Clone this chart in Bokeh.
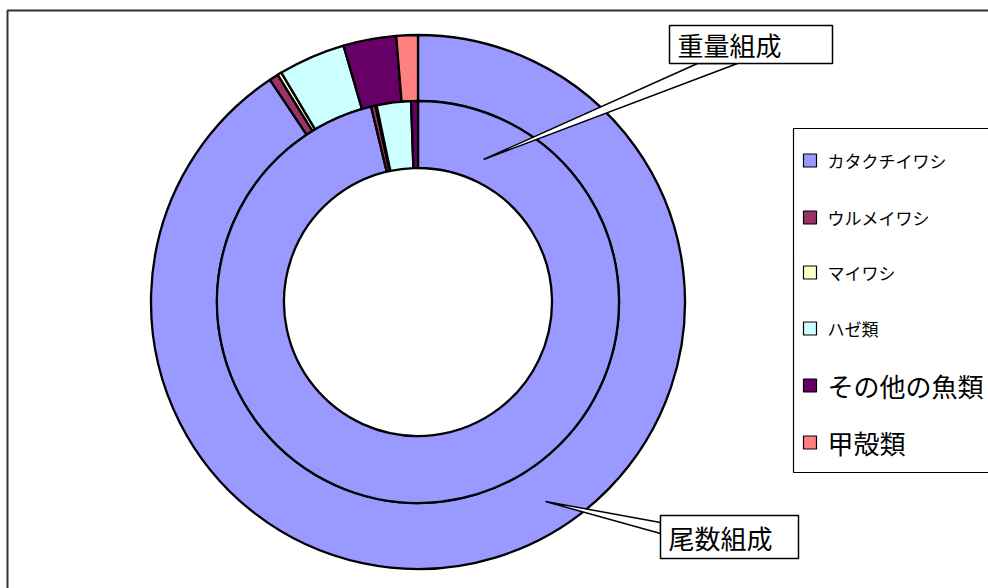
import numpy as np
from bokeh.plotting import figure
from bokeh.models import Range1d, ColumnDataSource
from bokeh.core.properties import value
from bokeh.embed import file_html
from bokeh.resources import INLINE

# Catch composition by species (%)
categories = ["カタクチイワシ", "ウルメイワシ", "マイワシ", "ハゼ類", "その他の魚類", "甲殻類"]
count_share = [90.65, 0.55, 0.25, 4.05, 3.2, 1.3]     # 尾数組成 (outer ring)
weight_share = [96.25, 0.35, 0.1, 2.75, 0.55, 0.0]    # 重量組成 (inner ring)
colors = ["#9999FF", "#993366", "#FFFFCC", "#CCFFFF", "#660066", "#FF8080"]
ring_labels = ["尾数組成", "重量組成"]

W, H = 988, 588
FONT = value("Noto Sans CJK JP")


def sy(py):
    # page-style y (downwards) to plot y (upwards)
    return H - py


p = figure(width=W, height=H, x_range=Range1d(0, W), y_range=Range1d(0, H),
           x_axis_type=None, y_axis_type=None, output_backend="svg",
           toolbar_location=None, min_border=0)
p.grid.visible = False
p.outline_line_color = None
p.background_fill_color = "white"
p.border_fill_color = "white"

# chart-area frame
p.line(x=[7, 7, W + 5], y=[sy(H + 5), sy(10), sy(10)], line_color="#333333", line_width=2)

cx, cy = 417.5, sy(301.5)
r_hole, r_mid, r_out = 134, 201, 267


def ring_source(shares):
    frac = np.asarray(shares, dtype=float) / np.sum(shares)
    ends = np.cumsum(frac)
    starts = ends - frac
    keep = frac > 0
    # clockwise from 12 o'clock
    return ColumnDataSource(dict(
        start=(np.pi / 2 - 2 * np.pi * starts)[keep],
        end=(np.pi / 2 - 2 * np.pi * ends)[keep],
        color=np.array(colors)[keep],
        name=np.array(categories)[keep],
    ))


for shares, r0, r1 in [(count_share, r_mid, r_out), (weight_share, r_hole, r_mid)]:
    p.annular_wedge(x=cx, y=cy, inner_radius=r0, outer_radius=r1,
                    start_angle="start", end_angle="end", direction="clock",
                    fill_color="color", line_color="black", line_width=2.3,
                    source=ring_source(shares))

# callout labels for the two rings
callouts = [
    # label, box (l, t, r, b), pointer polygon, text x
    (ring_labels[1], (669, 25, 832, 63), [(697, 63), (483, 159), (737, 63)], 677),
    (ring_labels[0], (660, 515, 798, 558), [(660, 522), (545, 501), (660, 533)], 668),
]
for label, (l, t, r, b), poly, tx in callouts:
    p.patch(x=[q[0] for q in poly], y=[sy(q[1]) for q in poly],
            fill_color="white", line_color="black", line_width=1.5)
    p.quad(left=l, right=r, top=sy(t), bottom=sy(b),
           fill_color="white", line_color="black", line_width=1.5)
    p.text(x=[tx], y=[sy((t + b) / 2)], text=[label], text_font=FONT,
           text_font_size="26px", text_baseline="middle", text_align="left",
           text_color="black")

# legend
p.quad(left=793, right=W + 10, top=sy(128), bottom=sy(472),
       fill_color="white", line_color="black", line_width=1.2)
leg_y = [160, 217, 272, 328, 385, 442]
leg_size = ["17px", "17px", "17px", "17px", "26px", "26px"]
sq = 13
p.quad(left=[803] * 6, right=[803 + sq] * 6,
       top=[sy(y - sq / 2) for y in leg_y], bottom=[sy(y + sq / 2) for y in leg_y],
       fill_color=colors, line_color="black", line_width=1.2)
for name, y, fs in zip(categories, leg_y, leg_size):
    p.text(x=[827], y=[sy(y)], text=[name], text_font=FONT, text_font_size=fs,
           text_baseline="middle", text_align="left", text_color="black")

open("out.html", "w").write(file_html(p, INLINE))
